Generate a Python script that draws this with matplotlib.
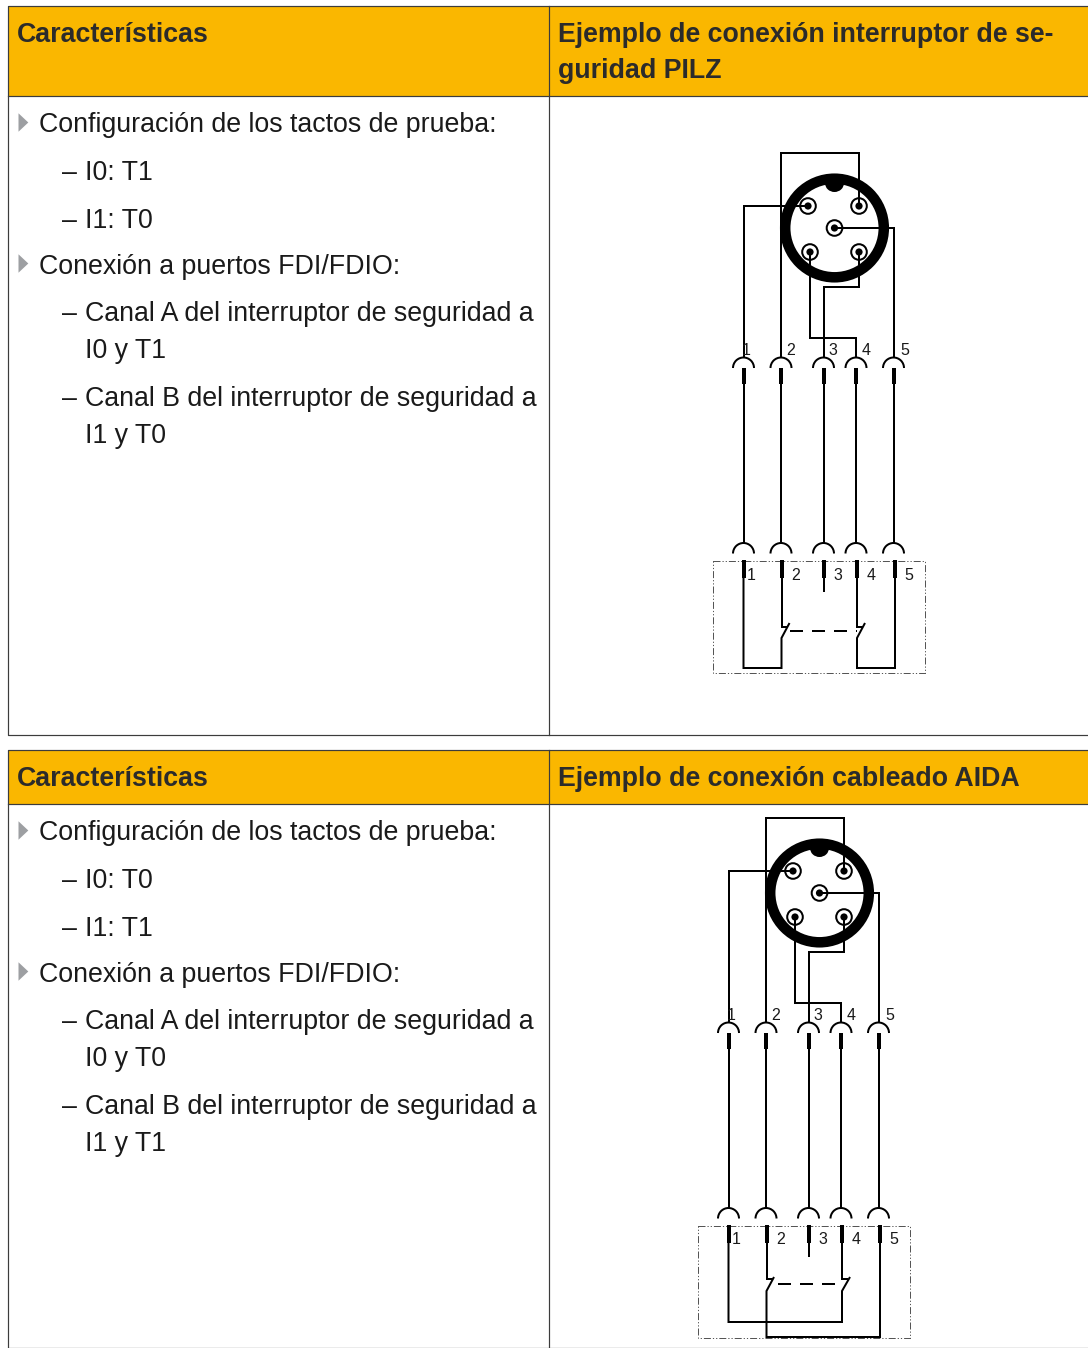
import matplotlib
matplotlib.use("Agg")
import matplotlib.pyplot as plt
from matplotlib.patches import Arc, Circle, Ellipse, Polygon, Rectangle

W, H = 1088, 1348
DPI = 100
px = 72 / DPI  # ein Pixel in Punkt

ORANGE = "#fab700"
RAND = "#3c3c3c"
TEXT = "#1a1a1a"

# Tabellen: oben, Kopfende, unten
tabellen = [(6, 96, 735), (750, 804, 1348)]
spalte_links, spalte_mitte = 8, 549

# Text: (x, baseline, string)
kopf_text = [
    (17, 42, "Características"),
    (558, 42, "Ejemplo de conexión interruptor de se-"),
    (558, 78, "guridad PILZ"),
    (17, 786, "Características"),
    (558, 786, "Ejemplo de conexión cableado AIDA"),
]
punkte = [
    (132.5, "Configuración de los tactos de prueba:"),
    (273.5, "Conexión a puertos FDI/FDIO:"),
    (840.5, "Configuración de los tactos de prueba:"),
    (981.5, "Conexión a puertos FDI/FDIO:"),
]
unterpunkte = [
    (180, "I0: T1", True), (228, "I1: T0", True),
    (321, "Canal A del interruptor de seguridad a", True), (358.5, "I0 y T1", False),
    (406, "Canal B del interruptor de seguridad a", True), (443, "I1 y T0", False),
    (888, "I0: T0", True), (936, "I1: T1", True),
    (1029, "Canal A del interruptor de seguridad a", True), (1066.5, "I0 y T0", False),
    (1114, "Canal B del interruptor de seguridad a", True), (1151, "I1 y T1", False),
]

# Stecker, Koordinaten fuer den oberen Plan
mitte = (834.5, 228)
pins = [(808, 206), (859, 206), (834.5, 228), (810, 252), (859, 252)]
adern_oben = [
    [(808, 206), (743.5, 206), (743.5, 358)],
    [(859, 206), (859, 153), (781, 153), (781, 358)],
    [(810, 252), (810, 338), (856, 338), (856, 358)],
    [(859, 252), (859, 287), (823.5, 287), (823.5, 358)],
    [(834.5, 228), (893.5, 228), (893.5, 358)],
]
bogen_x = [743.5, 781, 823.5, 856, 893.5]
stift_unten_x = [743.5, 781.5, 823.5, 857, 895]
num_oben = [(746.5, 350.5), (791, 350.5), (833, 350.5), (866, 350.5), (904.5, 350.5)]
num_unten = [(751, 575), (796, 575), (838, 575), (871, 575), (909, 575)]
rahmen = (713, 561, 925, 673)

# Schaltkontakte unten, je Plan eigene Verdrahtung
adern_pilz = [
    [(743.5, 578), (743.5, 668), (781.5, 668), (781.5, 638), (789.5, 623)],
    [(781.5, 578), (781.5, 627), (788, 627)],
    [(823.5, 578), (823.5, 592)],
    [(857, 578), (857, 627), (863, 627)],
    [(895, 578), (895, 668), (857, 668), (857, 638), (865, 623)],
]
gestrichelt_pilz = [(790, 631), (857, 631)]

adern_aida = [
    [(743.5, 578), (743.5, 657), (857, 657), (857, 626), (865, 612)],
    [(781.5, 578), (781.5, 614), (788, 614)],
    [(823.5, 578), (823.5, 592)],
    [(857, 578), (857, 614), (863, 614)],
    [(895, 578), (895, 672), (781.5, 672), (781.5, 626), (789, 612)],
]
gestrichelt_aida = [(793, 619), (856, 619)]

versatz_pilz = (0, 0)
versatz_aida = (-15, 665)


def linie(ax, punkte_xy, dx, dy, lw=2.0, **kw):
    xs = [p[0] + dx for p in punkte_xy]
    ys = [p[1] + dy for p in punkte_xy]
    kw.setdefault("color", "black")
    kw.setdefault("solid_joinstyle", "miter")
    kw.setdefault("solid_capstyle", "butt")
    ax.plot(xs, ys, lw=lw * px, zorder=5, **kw)


def schaltplan(ax, dx, dy, adern_unten, gestrichelt):
    # Ring mit Nase
    cx, cy = mitte[0] + dx, mitte[1] + dy
    ax.add_patch(Circle((cx, cy), 49.3, fc="white", ec="black", lw=10.5 * px, zorder=3))
    ax.add_patch(Ellipse((cx, cy - 45), 19, 18, fc="black", ec="none", zorder=4))

    for x, y in pins:
        ax.add_patch(Circle((x + dx, y + dy), 7.8, fc="white", ec="black", lw=2 * px, zorder=4))
        ax.add_patch(Circle((x + dx, y + dy), 3.6, fc="black", ec="none", zorder=6))

    for ader in adern_oben:
        linie(ax, ader, dx, dy)

    for i, x in enumerate(bogen_x):
        for y in (368, 553.5):
            ax.add_patch(Arc((x + dx, y + dy), 21, 21, theta1=180, theta2=360,
                             color="black", lw=2 * px, zorder=5))
        linie(ax, [(x, 368), (x, 384)], dx, dy, lw=4)
        linie(ax, [(x, 384), (x, 543)], dx, dy)
        xu = stift_unten_x[i]
        linie(ax, [(xu, 560), (xu, 578)], dx, dy, lw=4)
        ax.text(num_oben[i][0] + dx, num_oben[i][1] + dy, str(i + 1), fontsize=16 * px,
                ha="center", va="center", color=TEXT, zorder=7)
        ax.text(num_unten[i][0] + dx, num_unten[i][1] + dy, str(i + 1), fontsize=16 * px,
                ha="center", va="center", color=TEXT, zorder=7)

    for ader in adern_unten:
        linie(ax, ader, dx, dy)
    linie(ax, gestrichelt, dx, dy, linestyle=(0, (6.5, 4.5)))

    x0, y0, x1, y1 = rahmen
    ax.add_patch(Rectangle((x0 + dx, y0 + dy), x1 - x0, y1 - y0, fc="none", ec="#555555",
                           lw=1.0 * px, linestyle=(0, (7, 2, 1.2, 2, 1.2, 2)), zorder=2))


plt.rcParams["font.family"] = ["Liberation Sans", "DejaVu Sans"]

fig = plt.figure(figsize=(W / DPI, H / DPI), dpi=DPI)
ax = fig.add_axes([0, 0, 1, 1])
ax.set_xlim(0, W)
ax.set_ylim(H, 0)
ax.axis("off")

for oben, kopf, unten in tabellen:
    ax.add_patch(Rectangle((spalte_links, oben), W, kopf - oben, fc=ORANGE, ec="none", zorder=1))
    ax.plot([W, spalte_links, spalte_links, W], [oben, oben, unten, unten], color=RAND, lw=1.2 * px, zorder=2)
    ax.plot([spalte_links, W], [kopf, kopf], color=RAND, lw=1.2 * px, zorder=2)
    ax.plot([spalte_mitte, spalte_mitte], [oben, unten], color=RAND, lw=1.2 * px, zorder=2)

for x, y, s in kopf_text:
    ax.text(x, y, s, fontsize=26.7 * px, fontweight="bold", color="#2b2b2b", va="baseline")

for y, s in punkte:
    ax.add_patch(Polygon([(18.5, y - 19.2), (28.3, y - 10), (18.5, y - 0.8)], fc="#9d9fa2", ec="none"))
    ax.text(39, y, s, fontsize=26.7 * px, color=TEXT, va="baseline")

for y, s, strich in unterpunkte:
    if strich:
        ax.text(62, y, "–", fontsize=26.7 * px, color=TEXT, va="baseline")
    ax.text(85, y, s, fontsize=26.7 * px, color=TEXT, va="baseline")

schaltplan(ax, *versatz_pilz, adern_pilz, gestrichelt_pilz)
schaltplan(ax, *versatz_aida, adern_aida, gestrichelt_aida)

fig.savefig("out.png", dpi=DPI, facecolor="white")
